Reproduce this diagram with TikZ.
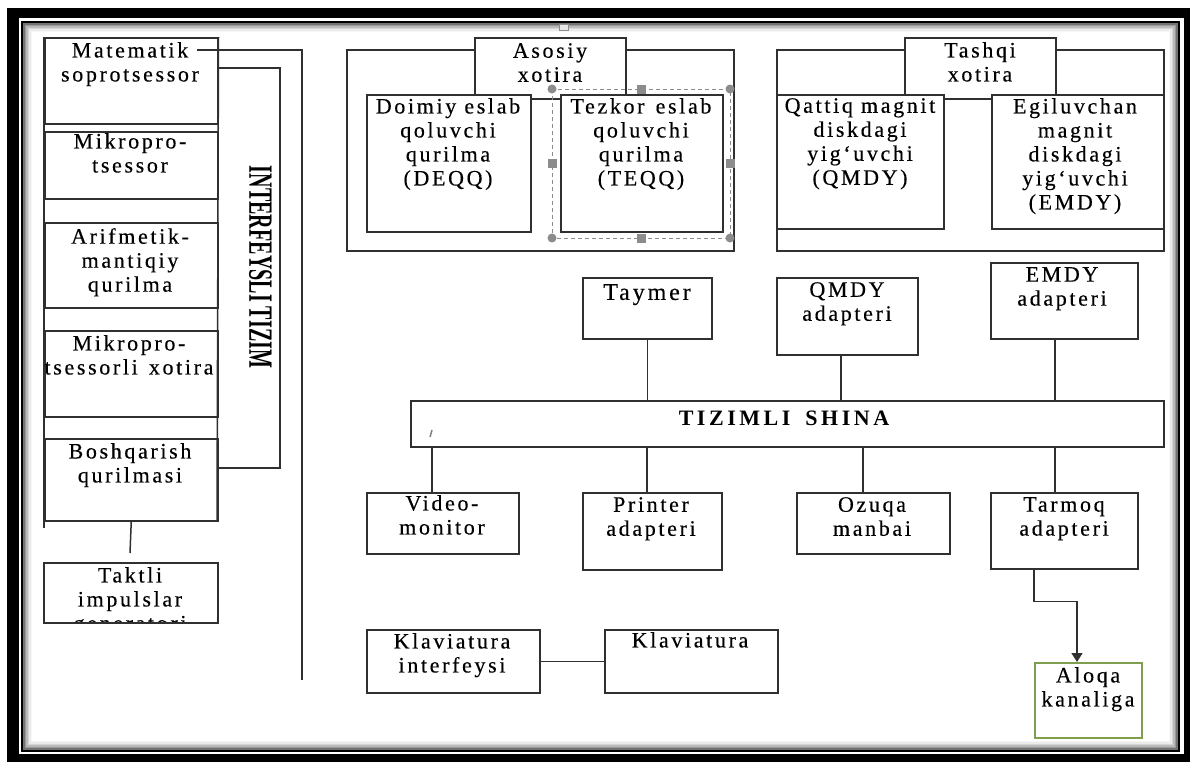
\documentclass[tikz,border=0pt]{standalone}
\usepackage{fontspec}
\setmainfont{Liberation Serif}[LetterSpace=12,FakeBold=0.3]
\newfontfamily\busfont{Liberation Serif}[LetterSpace=16]
\newfontfamily\ifacefont{Liberation Serif}
\usetikzlibrary{arrows.meta,calc}
\definecolor{linec}{HTML}{303030}
\definecolor{aloqac}{HTML}{7F9F4F}
\definecolor{handlec}{HTML}{8C8C8C}
\newcommand\mkbox[6][]{\node[box,minimum width=#5,minimum height=#6,#1] (#2) at (#3,#4) {};}
\begin{document}
\begin{tikzpicture}[x=1pt,y=-1pt,
  box/.style={draw=linec,line width=1.5pt,fill=white,inner sep=0pt,anchor=north west},
  txt/.style={inner sep=0pt,anchor=north,align=center,font=\fontsize{22}{24}\selectfont,text=black},
  conn/.style={draw=linec,line width=1.5pt},
  hdl/.style={fill=handlec,draw=none}]
\useasboundingbox (0,0) rectangle (1197,764);
% frame
\fill[black] (7,8) rectangle (1190,762);
\fill[white] (19,18) rectangle (1184,754);
\foreach \d/\c in {2/55,3.5/40,5/27,6.5/16,8/8,9.5/3}{
  \draw[black!\c,line width=1.6pt] (22+\d,22+\d) rectangle (1179-\d,751-\d);}
\draw[black,line width=1.5pt] (22,22) rectangle (1179,751);
\draw[handlec,fill=gray!20,line width=0.8pt] (559,24) rectangle (568,30);

% left column
\mkbox{mat}{44}{37}{173}{86}
\mkbox{mikro}{44}{131}{173}{67}
\mkbox{arif}{44}{222}{173}{85}
\mkbox{mxot}{44}{330}{173}{86}
\mkbox{bosh}{44}{438}{173}{82}
\mkbox{takt}{43}{562}{174}{60}
\coordinate (lcb) at (44,528);
\coordinate (rcb) at (217,520);
\draw[conn] (mat.north west) -- (lcb);
\draw[conn] (mat.north east) -- (rcb);
\node[txt] (matT) at (130,42) {Matematik\\soprotsessor};
\node[txt] (mikroT) at (130,133) {Mikropro-\\tsessor};
\node[txt] (arifT) at (130,228) {Arifmetik-\\mantiqiy\\qurilma};
\node[txt] (mxotT) at (129,335) {Mikropro-\\tsessorli\hspace{3pt} xotira};
\node[txt] (boshT) at (130,443) {Boshqarish\\qurilmasi};
\begin{scope}
  \clip (43,562) rectangle (217,621);
  \node[txt] (taktT) at (130,567) {Taktli\\impulslar\\generatori};
\end{scope}
\coordinate (tk) at (130,553);
\draw[conn] (bosh.south) -- (tk);

% interface lines
\coordinate (m1) at (197,50);
\coordinate (ifb) at (302,680);
\draw[conn] (m1) -| (ifb);
\coordinate (ifm) at (280,468);
\draw[conn] ($(mat.north east)+(0,31)$) -| (ifm) -- ($(bosh.north east)+(0,30)$);
\node[rotate=-90,inner sep=0pt,font=\ifacefont\bfseries\fontsize{34}{36}\selectfont] (ifT) at (260.5,267) {\scalebox{0.59}[1]{INTERFEYSLI TIZIM}};

% Asosiy xotira
\mkbox{asos}{346}{49}{387}{201}
\mkbox{asosL}{474}{37}{151}{61}
\mkbox{deqq}{366}{94}{164}{137}
\mkbox{teqq}{560}{94}{162}{137}
\node[txt] (asosT) at (550,43) {Asosiy\\xotira};
\node[txt] (deqqT) at (448,98) {Doimiy eslab\\qoluvchi\\qurilma\\(DEQQ)};
\node[txt] (teqqT) at (641,98) {Tezkor\hspace{3pt} eslab\\qoluvchi\\qurilma\\(TEQQ)};
% selection frame
\draw[handlec,line width=1pt,dash pattern=on 4pt off 3pt] (552,89) rectangle (730,238);
\foreach \p in {(552,89),(730,89),(552,238),(730,238)}{\fill[hdl] \p circle (4.5);}
\foreach \p in {(641,89),(552,163.5),(730,163.5),(641,238)}{\fill[hdl] \p ++(-4.5,-4.5) rectangle ++(9,9);}

% Tashqi xotira
\mkbox{tash}{776}{49}{387}{201}
\mkbox{tashL}{904}{37}{151}{61}
\mkbox{qmdy}{776}{94}{167}{134}
\mkbox{emdy}{991}{94}{172}{134}
\node[txt] (tashT) at (980,42) {Tashqi\\xotira};
\node[txt] (qmdyT) at (860,98) {Qattiq magnit\\diskdagi\\yig‘uvchi\\(QMDY)};
\node[txt] (emdyT) at (1075,98) {Egiluvchan\\magnit\\diskdagi\\yig‘uvchi\\(EMDY)};

% upper adapters
\mkbox{taymer}{582}{277}{129}{61}
\mkbox{qmdya}{776}{277}{141}{77}
\mkbox{emdya}{990}{262}{147}{76}
\node[txt,font=\fontsize{24}{26}\selectfont] (taymerT) at (647,284) {Taymer};
\node[txt] (qmdyaT) at (847,282) {QMDY\\adapteri};
\node[txt] (emdyaT) at (1062,267) {EMDY\\adapteri};

% bus
\mkbox{bus}{410}{400}{753}{46}
\node[anchor=base,inner sep=0pt,font=\busfont\bfseries\fontsize{22}{24}\selectfont] (busT) at (784,425) {TIZIMLI\hspace{6pt} SHINA};
\draw[gray,line width=1.5pt] (430,437) -- (432,430);

% lower devices
\mkbox{video}{366}{492}{152}{61}
\mkbox{printer}{582}{492}{139}{77}
\mkbox{ozuqa}{796}{492}{153}{61}
\mkbox{tarmoq}{990}{492}{147}{76}
\mkbox[draw=aloqac]{aloqa}{1034}{662}{107}{75}
\node[txt] (videoT) at (442,495) {Video-\\monitor};
\node[txt] (printerT) at (651,497) {Printer\\adapteri};
\node[txt] (ozuqaT) at (872,497) {Ozuqa\\manbai};
\node[txt] (tarmoqT) at (1064,497) {Tarmoq\\adapteri};
\node[txt] (aloqaT) at (1088,667) {Aloqa\\kanaliga};

% keyboard
\mkbox{klint}{366}{629}{173}{63}
\mkbox{klav}{604}{629}{173}{63}
\node[txt] (klintT) at (452,633) {Klaviatura\\interfeysi};
\node[txt] (klavT) at (690,632) {Klaviatura};
\draw[conn] (klint.east) -- (klav.west);

% bus connectors
\draw[conn] (taymer.south) -- (taymer.south |- bus.north);
\draw[conn] ($(qmdya.south)+(-6.5,0)$) -- ($(qmdya.south |- bus.north)+(-6.5,0)$);
\draw[conn] ($(emdya.south)+(-9.5,0)$) -- ($(emdya.south |- bus.north)+(-9.5,0)$);
\draw[conn] ($(bus.south -| video.north)+(-11,0)$) -- ($(video.north)+(-11,0)$);
\draw[conn] ($(bus.south -| printer.north)+(-5.5,0)$) -- ($(printer.north)+(-5.5,0)$);
\draw[conn] ($(bus.south -| ozuqa.north)+(-10.5,0)$) -- ($(ozuqa.north)+(-10.5,0)$);
\draw[conn] ($(bus.south -| tarmoq.north)+(-9.5,0)$) -- ($(tarmoq.north)+(-9.5,0)$);
\draw[conn,-{Triangle[width=11pt,length=9pt]}] ($(tarmoq.south west)+(44,0)$) -- ++(0,32) -| ($(aloqa.north west)+(43,0)$);
\end{tikzpicture}
\end{document}
